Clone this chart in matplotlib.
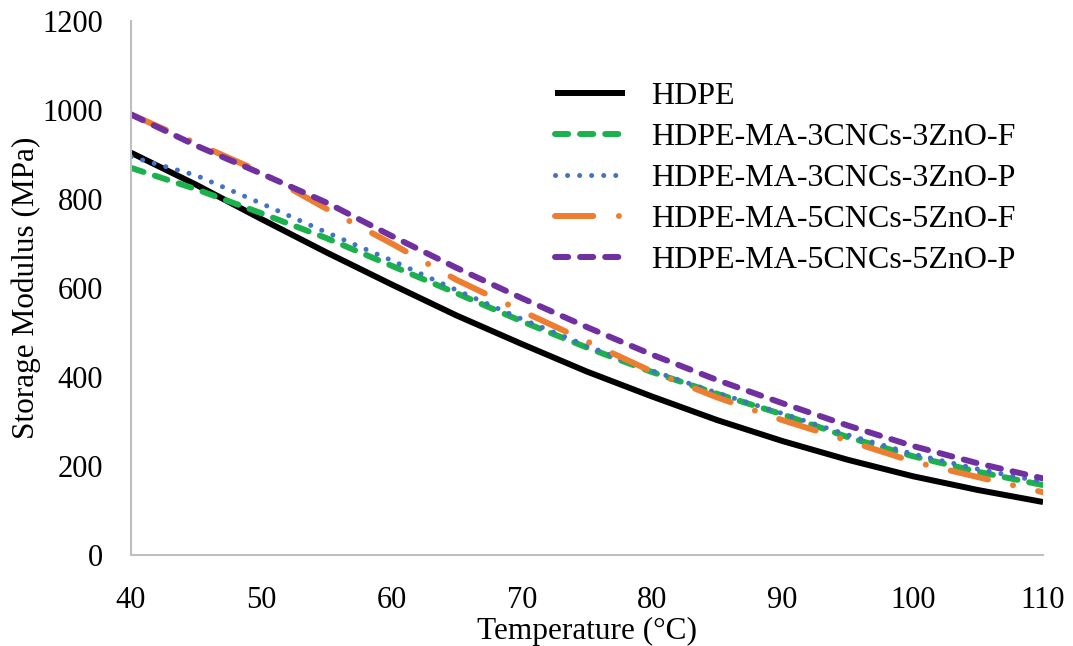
import numpy as np
import matplotlib.pyplot as plt

temperature = [40, 45, 50, 55, 60, 65, 70, 75, 80, 85, 90, 95, 100, 105, 110]

hdpe = [904, 832, 755, 680, 608, 538, 474, 412, 356, 303, 256, 214, 177, 146, 119]
ma3_f = [870, 822, 768, 712, 650, 588, 525, 466, 411, 362, 316, 265, 222, 187, 157]
ma3_p = [895, 853, 790, 725, 662, 595, 530, 470, 414, 364, 318, 270, 227, 193, 164]
ma5_f = [990, 925, 860, 778, 700, 618, 548, 480, 412, 354, 303, 257, 210, 175, 141]
ma5_p = [990, 920, 857, 792, 717, 645, 577, 512, 450, 393, 341, 291, 245, 206, 172]

names = ['HDPE', 'HDPE-MA-3CNCs-3ZnO-F', 'HDPE-MA-3CNCs-3ZnO-P',
         'HDPE-MA-5CNCs-5ZnO-F', 'HDPE-MA-5CNCs-5ZnO-P']

plt.rcParams['font.family'] = ['Liberation Serif', 'DejaVu Serif']

fig = plt.figure(figsize=(10.73, 6.46), dpi=100)
ax = fig.add_axes([0.1221, 0.1409, 0.850, 0.8266])

lw = 4.3
ax.plot(temperature, hdpe, color='black', lw=lw, label=names[0], solid_capstyle='butt')
ax.plot(temperature, ma3_f, color='#1bb14c', lw=lw, dashes=(2.2, 2.0), dash_capstyle='round',
        label=names[1])
ax.plot(temperature, ma3_p, color='#4472c4', lw=3.6, dashes=(0.01, 2.4), dash_capstyle='round',
        label=names[2])
ax.plot(temperature, ma5_f, color='#ed7d31', lw=lw, dashes=(6.4, 4.3, 0.01, 4.3), dash_capstyle='round',
        label=names[3])
ax.plot(temperature, ma5_p, color='#7030a0', lw=lw, dashes=(2.2, 2.0), dash_capstyle='round',
        label=names[4])

ax.set_xlim(40, 110)
ax.set_ylim(0, 1200)
ax.set_xticks(np.arange(40, 111, 10))
ax.set_yticks(np.arange(0, 1201, 200))
ax.tick_params(length=0, labelsize=22)
ax.tick_params(axis='x', pad=22)
ax.tick_params(axis='y', pad=20)
for s in ['top', 'right']:
    ax.spines[s].set_visible(False)
for s in ['left', 'bottom']:
    ax.spines[s].set_color('#bfbfbf')
    ax.spines[s].set_linewidth(1.5)

ax.set_xlabel('Temperature (\u00b0C)', fontsize=22.5, labelpad=2)
ax.set_ylabel('Storage Modulus (MPa)', fontsize=22.5, labelpad=1)

ax.legend(loc='upper left', bbox_to_anchor=(0.465, 0.887), frameon=False, fontsize=23,
          handlelength=2.2, labelspacing=0.37, handletextpad=0.8,
          borderaxespad=0, borderpad=0)

plt.savefig('out.png')
